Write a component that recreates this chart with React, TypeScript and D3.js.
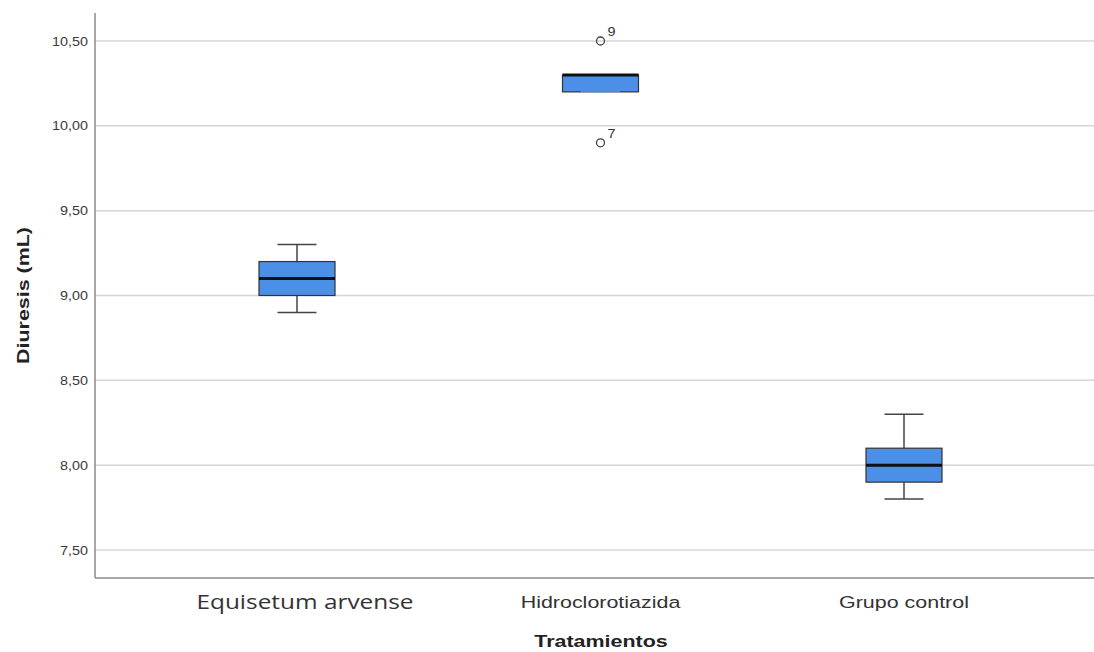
import React from "react";
import * as d3 from "d3";

const categories = ["Equisetum arvense", "Hidroclorotiazida", "Grupo control"];
const whiskerLow = [8.9, 10.2, 7.8];
const q1 = [9.0, 10.2, 7.9];
const median = [9.1, 10.3, 8.0];
const q3 = [9.2, 10.3, 8.1];
const whiskerHigh = [9.3, 10.3, 8.3];
const outliers = [
  { cat: 1, value: 10.5, label: "9" },
  { cat: 1, value: 9.9, label: "7" },
];
const yTicks = [7.5, 8.0, 8.5, 9.0, 9.5, 10.0, 10.5];

const W = 1094;
const H = 652;
const left = 95;
const right = 1094;
const top = 13;
const bottom = 578;

export default function App() {
  const y = d3.scaleLinear().domain([7.335, 10.665]).range([bottom, top]);
  const x = d3.scalePoint<string>().domain(categories).range([297, 904]);
  const boxW = 76;
  const capW = 39;
  const fmt = (v: number) => v.toFixed(2).replace(".", ",");
  const arial = "'Liberation Sans', Arial, sans-serif";
  const catFont = ["'Open Sans', sans-serif", arial, arial];
  const catSize = [20, 16.5, 16.5];
  const catScale = [1.22, 1.3, 1.3];
  const catY = [609, 608, 608];
  const catDx = [8, 0, 0];

  return (
    <svg width={W} height={H} style={{ position: "absolute", left: 0, top: 0, background: "#fff" }}>
      {yTicks.map((t) => (
        <g key={t}>
          <line x1={left} x2={right} y1={y(t)} y2={y(t)} stroke="#d6d6d6" strokeWidth={1.5} />
          <text transform={`translate(88,${y(t)}) scale(1.15,1)`} dy="0.36em" textAnchor="end" fontSize={12.5} fill="#3a3a3a"
            fontFamily={arial}>{fmt(t)}</text>
        </g>
      ))}
      <line x1={left} x2={left} y1={top} y2={bottom} stroke="#8a8a8a" strokeWidth={1.5} />
      <line x1={left} x2={right} y1={bottom} y2={bottom} stroke="#8a8a8a" strokeWidth={1.5} />
      {categories.map((c, i) => {
        const cx = x(c) as number;
        return (
          <g key={c}>
            <line x1={cx} x2={cx} y1={y(whiskerHigh[i])} y2={y(q3[i])} stroke="#444" strokeWidth={1.5} />
            <line x1={cx} x2={cx} y1={y(q1[i])} y2={y(whiskerLow[i])} stroke="#444" strokeWidth={1.5} />
            {whiskerHigh[i] > q3[i] && (
              <line x1={cx - capW / 2} x2={cx + capW / 2} y1={y(whiskerHigh[i])} y2={y(whiskerHigh[i])} stroke="#444" strokeWidth={1.5} />
            )}
            {whiskerLow[i] < q1[i] && (
              <line x1={cx - capW / 2} x2={cx + capW / 2} y1={y(whiskerLow[i])} y2={y(whiskerLow[i])} stroke="#444" strokeWidth={1.5} />
            )}
            <rect x={cx - boxW / 2} y={y(q3[i])} width={boxW} height={y(q1[i]) - y(q3[i])}
              fill="#4c8fe6" stroke="#333" strokeWidth={1.2} />
            {whiskerLow[i] === q1[i] && (
              <line x1={cx - capW / 2} x2={cx + capW / 2} y1={y(whiskerLow[i])} y2={y(whiskerLow[i])} stroke="#8aa6c8" strokeWidth={1} />
            )}
            <line x1={cx - boxW / 2} x2={cx + boxW / 2} y1={y(median[i])} y2={y(median[i])} stroke="#111" strokeWidth={3} />
            <text transform={`translate(${cx + catDx[i]},${catY[i]}) scale(${catScale[i]},1)`} textAnchor="middle" fontSize={catSize[i]}
              fill="#333" fontFamily={catFont[i]}>{c}</text>
          </g>
        );
      })}
      {outliers.map((o, k) => {
        const cx = x(categories[o.cat]) as number;
        return (
          <g key={k}>
            <circle cx={cx} cy={y(o.value)} r={4} fill="none" stroke="#444" strokeWidth={1.3} />
            <text transform={`translate(${cx + 7},${y(o.value) - 5}) scale(1.15,1)`} fontSize={12.5} fill="#333"
              fontFamily={arial}>{o.label}</text>
          </g>
        );
      })}
      <text transform={`translate(601,647) scale(1.3,1)`} textAnchor="middle" fontSize={16.5} fontWeight="bold" fill="#222"
        fontFamily={arial}>Tratamientos</text>
      <text transform={`translate(29,${(top + bottom) / 2}) rotate(-90) scale(1.3,1)`} textAnchor="middle" fontSize={16.5}
        fontWeight="bold" fill="#222" fontFamily={arial}>Diuresis (mL)</text>
    </svg>
  );
}
